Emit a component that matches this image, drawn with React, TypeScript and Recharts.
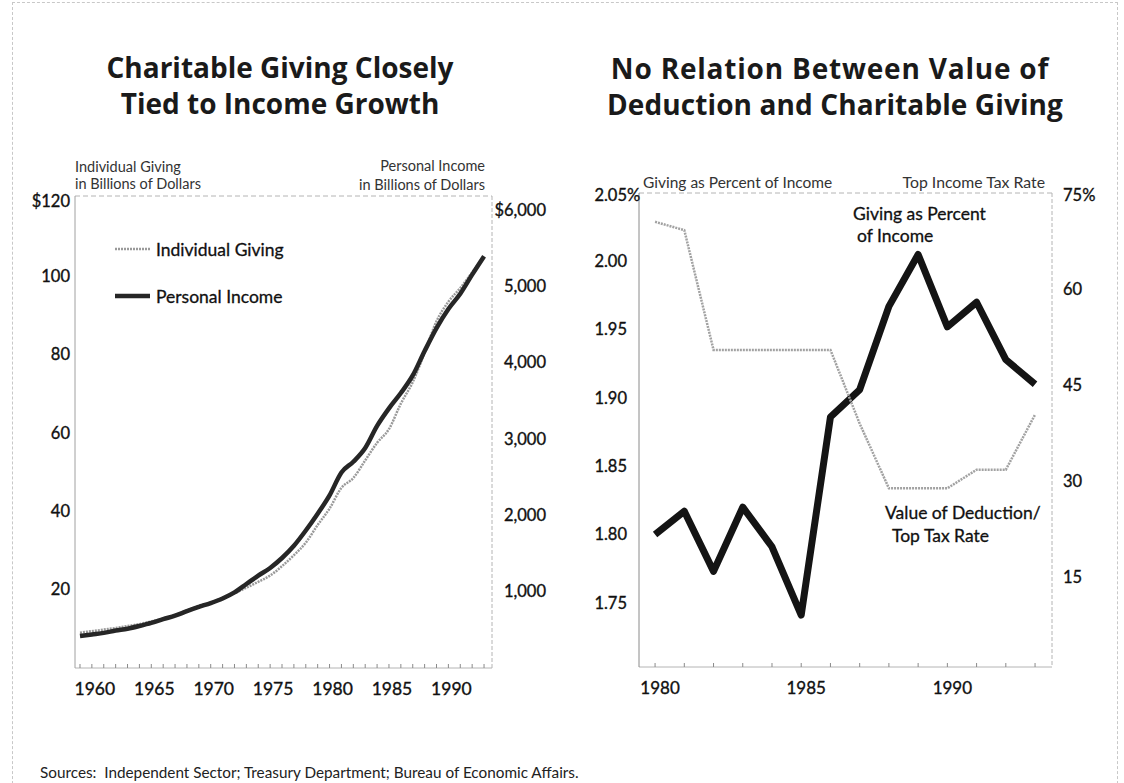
import React from 'react';
import { LineChart, Line, XAxis, YAxis, ReferenceLine, Legend } from 'recharts';

const FONT = 'Lato, "Open Sans", sans-serif';
const TITLE_FONT = '"Open Sans", "Noto Sans", sans-serif';

// ---------- Left chart: Charitable Giving Closely Tied to Income Growth ----------
const incomeYears = [
  1959, 1960, 1961, 1962, 1963, 1964, 1965, 1966, 1967, 1968, 1969, 1970,
  1971, 1972, 1973, 1974, 1975, 1976, 1977, 1978, 1979, 1980, 1981, 1982,
  1983, 1984, 1985, 1986, 1987, 1988, 1989, 1990, 1991, 1992, 1993,
];
// Personal income, billions of dollars (right axis)
const personalIncome = [
  420, 440, 460, 490, 515, 550, 590, 640, 685, 745, 800, 850,
  910, 990, 1100, 1210, 1310, 1440, 1600, 1800, 2020, 2260, 2560, 2700,
  2880, 3170, 3400, 3600, 3830, 4150, 4450, 4700, 4900, 5150, 5390,
];
// Individual giving, billions of dollars (left axis)
const individualGiving = [
  9.0, 9.4, 9.8, 10.2, 10.7, 11.2, 11.9, 12.6, 13.5, 14.7, 15.9, 16.6,
  17.9, 19.1, 20.5, 22.0, 23.6, 26.0, 28.8, 32.0, 36.5, 40.7, 46.0, 48.5,
  53.0, 57.5, 61.0, 67.5, 73.0, 80.5, 88.5, 93.5, 97.0, 101.0, 105.0,
];
const leftYearLabels = [1960, 1965, 1970, 1975, 1980, 1985, 1990];
const givingTicks = [20, 40, 60, 80, 100, 120];
const incomeTicks = [1000, 2000, 3000, 4000, 5000, 6000];
const GIVING_DOMAIN: [number, number] = [0, 120.5];
const INCOME_DOMAIN: [number, number] = [0, 6180];
const LEFT_YEAR_DOMAIN: [number, number] = [1958.58, 1993.67];

// ---------- Right chart: No Relation Between Value of Deduction and Charitable Giving ----------
const rightYears = [1980, 1981, 1982, 1983, 1984, 1985, 1986, 1987, 1988, 1989, 1990, 1991, 1992, 1993];
// Giving as percent of income (left axis)
const givingPercent = [1.8, 1.817, 1.773, 1.82, 1.791, 1.741, 1.886, 1.906, 1.967, 2.005, 1.952, 1.97, 1.928, 1.91];
// Value of deduction / top income tax rate, percent (right axis)
const topTaxRate = [70.5, 69.2, 50.5, 50.5, 50.5, 50.5, 50.5, 39, 28.9, 28.9, 28.9, 31.8, 31.8, 40.4];
const rightYearLabels = [1980, 1985, 1990];
const percentTicks = [1.75, 1.8, 1.85, 1.9, 1.95, 2.0, 2.05];
const rateTicks = [15, 30, 45, 60, 75];
const PERCENT_DOMAIN: [number, number] = [1.703, 2.05];
const RATE_DOMAIN: [number, number] = [1, 75];
const RIGHT_YEAR_DOMAIN: [number, number] = [1979.45, 1993.58];

const leftData = incomeYears.map((year, i) => ({
  year,
  giving: individualGiving[i],
  income: personalIncome[i],
}));
const rightData = rightYears.map((year, i) => ({
  year,
  pct: givingPercent[i],
  rate: topTaxRate[i],
}));

const TEXT = '#111';
const FRAME = '#b4b4b4';
const TICK_FS = 16.5;
const thick = { stroke: '#111', strokeWidth: 0.35 };

const makeYearTick = (labels: number[], margin: number, dx: number, fs: number) => (props: any) => {
  const { x, y, payload } = props;
  const axisY = y - margin;
  const show = labels.includes(payload.value);
  return (
    <g>
      <line x1={x} x2={x} y1={axisY} y2={axisY - 4} stroke="#8a8a8a" strokeWidth={1} />
      {show && (
        <text x={x + dx} y={y} dy="0.75em" textAnchor="middle" fontSize={fs} fontFamily={FONT} fill={TEXT} {...thick}>
          {payload.value}
        </text>
      )}
    </g>
  );
};

const GivingTick = (props: any) => {
  const { x, y, payload } = props;
  const v = payload.value;
  const top = v === givingTicks[givingTicks.length - 1];
  return (
    <text x={x} y={y + (top ? 3 : 0)} dy="0.35em" textAnchor="end" fontSize={TICK_FS} fontFamily={FONT} fill={TEXT} {...thick}>
      {top ? `$${v}` : v}
    </text>
  );
};

const IncomeTick = (props: any) => {
  const { x, y, payload } = props;
  const v = payload.value;
  const top = v === incomeTicks[incomeTicks.length - 1];
  const s = v.toLocaleString('en-US');
  return (
    <text x={x} y={y} dy="0.35em" textAnchor="end" fontSize={TICK_FS} fontFamily={FONT} fill={TEXT} {...thick}>
      {top ? `$${s}` : s}
    </text>
  );
};

const PercentTick = (props: any) => {
  const { x, y, payload } = props;
  const v = payload.value;
  const top = v === percentTicks[percentTicks.length - 1];
  return (
    <g>
      <text x={x} y={y + (top ? 2 : 0)} dy="0.35em" textAnchor="end" fontSize={TICK_FS} fontFamily={FONT} fill={TEXT} {...thick}>
        {v.toFixed(2)}
      </text>
      {top && (
        <text x={x} y={y + 2} dy="0.35em" textAnchor="start" fontSize={TICK_FS} fontFamily={FONT} fill={TEXT} {...thick}>
          %
        </text>
      )}
    </g>
  );
};

const RateTick = (props: any) => {
  const { x, y, payload } = props;
  const v = payload.value;
  const top = v === rateTicks[rateTicks.length - 1];
  return (
    <text x={x} y={y + (top ? 2 : 0)} dy="0.35em" textAnchor="start" fontSize={TICK_FS} fontFamily={FONT} fill={TEXT} {...thick}>
      {top ? `${v}%` : v}
    </text>
  );
};

const LegendContent = (props: any) => {
  const { payload } = props;
  return (
    <div style={{ fontFamily: FONT, fontSize: 17.5, color: TEXT, WebkitTextStroke: '0.3px #111' }}>
      {(payload || []).map((item: any, i: number) => (
        <div key={i} style={{ display: 'flex', alignItems: 'center', height: 24, marginBottom: i === 0 ? 23 : 0 }}>
          <svg width={38} height={10} style={{ display: 'block' }}>
            <line
              x1={0}
              x2={35}
              y1={5}
              y2={5}
              stroke={item.color}
              strokeWidth={item.payload?.strokeWidth ?? 3}
              strokeDasharray={item.payload?.strokeDasharray}
            />
          </svg>
          <span style={{ marginLeft: 3 }}>{item.value}</span>
        </div>
      ))}
    </div>
  );
};

const abs = (left: number, top: number, extra: React.CSSProperties = {}): React.CSSProperties => ({
  position: 'absolute',
  left,
  top,
  ...extra,
});

const titleStyle = (left: number, top: number, width: number, spacing = 0): React.CSSProperties =>
  abs(left, top, {
    width,
    textAlign: 'center',
    fontFamily: TITLE_FONT,
    fontWeight: 700,
    fontSize: 28,
    lineHeight: '30px',
    height: 30,
    letterSpacing: spacing,
    color: '#1a1a1a',
    whiteSpace: 'nowrap',
  });

export default function App() {
  const TICK_MARGIN = 14;
  return (
    <div
      style={{
        position: 'absolute',
        left: 0,
        top: 0,
        width: 1124,
        height: 783,
        background: '#fff',
        overflow: 'hidden',
        fontFamily: FONT,
        color: TEXT,
      }}
    >
      <div style={abs(12, 2, { width: 1104, height: 840, border: '1px dashed #c8c8c8' })} />

      {/* Titles */}
      <div style={titleStyle(80, 52, 400)}>Charitable Giving Closely</div>
      <div style={titleStyle(80, 88, 400)}>Tied to Income Growth</div>
      <div style={titleStyle(580, 53, 500, 0.8)}>No Relation Between Value of</div>
      <div style={titleStyle(585, 89, 500, 0.1)}>Deduction and Charitable Giving</div>

      {/* Left chart axis titles */}
      <div style={abs(75, 158, { fontSize: 14.5, lineHeight: '17px', color: '#333' })}>
        Individual Giving
        <br />
        in Billions of Dollars
      </div>
      <div style={abs(285, 156, { width: 200, textAlign: 'right', fontSize: 14.5, lineHeight: '19px', color: '#333' })}>
        Personal Income
        <br />
        in Billions of Dollars
      </div>

      {/* Right chart axis titles */}
      <div style={abs(643, 173, { fontSize: 15.5, lineHeight: '18px', color: '#333' })}>Giving as Percent of Income</div>
      <div style={abs(845, 173, { width: 200, textAlign: 'right', fontSize: 15.8, lineHeight: '18px', color: '#333' })}>
        Top Income Tax Rate
      </div>

      {/* Left chart */}
      <div style={abs(0, 150)}>
        <LineChart width={580} height={560} data={leftData} margin={{ top: 46, right: 0, bottom: 0, left: 0 }}>
          <XAxis
            dataKey="year"
            type="number"
            domain={LEFT_YEAR_DOMAIN}
            ticks={incomeYears}
            interval={0}
            height={42}
            tickSize={0}
            tickMargin={TICK_MARGIN}
            axisLine={{ stroke: FRAME }}
            tickLine={false}
            tick={makeYearTick(leftYearLabels, TICK_MARGIN, 3, 17.5)}
          />
          <YAxis
            yAxisId="giving"
            orientation="left"
            width={75}
            domain={GIVING_DOMAIN}
            ticks={givingTicks}
            interval={0}
            tickSize={0}
            tickMargin={5}
            axisLine={{ stroke: '#a0a0a0' }}
            tickLine={false}
            tick={GivingTick}
          />
          <YAxis
            yAxisId="income"
            orientation="right"
            width={88}
            domain={INCOME_DOMAIN}
            ticks={incomeTicks}
            interval={0}
            tickSize={0}
            tickMargin={54}
            axisLine={{ stroke: FRAME, strokeDasharray: '4 2' }}
            tickLine={false}
            tick={IncomeTick}
          />
          <ReferenceLine yAxisId="giving" y={GIVING_DOMAIN[1]} stroke={FRAME} strokeDasharray="5 3" />
          <Line
            yAxisId="giving"
            dataKey="giving"
            name="Individual Giving"
            type="monotone"
            stroke="#9a9a9a"
            strokeWidth={2.5}
            strokeDasharray="2 1"
            dot={false}
            isAnimationActive={false}
          />
          <Line
            yAxisId="income"
            dataKey="income"
            name="Personal Income"
            type="monotone"
            stroke="#262626"
            strokeWidth={4.5}
            dot={false}
            isAnimationActive={false}
          />
          <Legend
            layout="vertical"
            align="center"
            verticalAlign="middle"
            content={LegendContent}
            wrapperStyle={{ left: 115, top: 87, width: 220, height: 80 }}
          />
        </LineChart>
      </div>

      {/* Right chart */}
      <div style={abs(580, 150)}>
        <LineChart width={544} height={560} data={rightData} margin={{ top: 43, right: 0, bottom: 0, left: 0 }}>
          <XAxis
            dataKey="year"
            type="number"
            domain={RIGHT_YEAR_DOMAIN}
            ticks={rightYears}
            interval={0}
            height={43}
            tickSize={0}
            tickMargin={TICK_MARGIN}
            axisLine={{ stroke: FRAME }}
            tickLine={false}
            tick={makeYearTick(rightYearLabels, TICK_MARGIN, 5, 17)}
          />
          <YAxis
            yAxisId="pct"
            orientation="left"
            width={59}
            domain={PERCENT_DOMAIN}
            ticks={percentTicks}
            interval={0}
            tickSize={0}
            tickMargin={12}
            axisLine={{ stroke: '#8a8a8a' }}
            tickLine={false}
            tick={PercentTick}
          />
          <YAxis
            yAxisId="rate"
            orientation="right"
            width={72}
            domain={RATE_DOMAIN}
            ticks={rateTicks}
            interval={0}
            tickSize={0}
            tickMargin={11}
            axisLine={{ stroke: FRAME, strokeDasharray: '4 2' }}
            tickLine={false}
            tick={RateTick}
          />
          <ReferenceLine yAxisId="pct" y={PERCENT_DOMAIN[1]} stroke={FRAME} strokeDasharray="5 3" />
          <Line
            yAxisId="pct"
            dataKey="pct"
            name="Giving as Percent of Income"
            type="linear"
            stroke="#141414"
            strokeWidth={7}
            strokeLinejoin="round"
            dot={false}
            isAnimationActive={false}
          />
          <Line
            yAxisId="rate"
            dataKey="rate"
            name="Value of Deduction/Top Tax Rate"
            type="linear"
            stroke="#a2a2a2"
            strokeWidth={2.5}
            strokeDasharray="2 1"
            dot={false}
            isAnimationActive={false}
          />
        </LineChart>
      </div>

      {/* Right chart annotations */}
      <div style={abs(853, 203, { fontSize: 17.5, lineHeight: '22px', color: '#111', WebkitTextStroke: '0.3px #111' })}>
        Giving as Percent
        <br />
        <span style={{ paddingLeft: 4 }}>of Income</span>
      </div>
      <div style={abs(885, 501, { fontSize: 17.5, lineHeight: '23px', color: '#111', WebkitTextStroke: '0.3px #111' })}>
        Value of Deduction/
        <br />
        <span style={{ paddingLeft: 7 }}>Top Tax Rate</span>
      </div>

      {/* Sources */}
      <div style={abs(40, 763, { fontSize: 15.3, lineHeight: '19px', color: '#222' })}>
        Sources:&nbsp; Independent Sector; Treasury Department; Bureau of Economic Affairs.
      </div>
    </div>
  );
}
